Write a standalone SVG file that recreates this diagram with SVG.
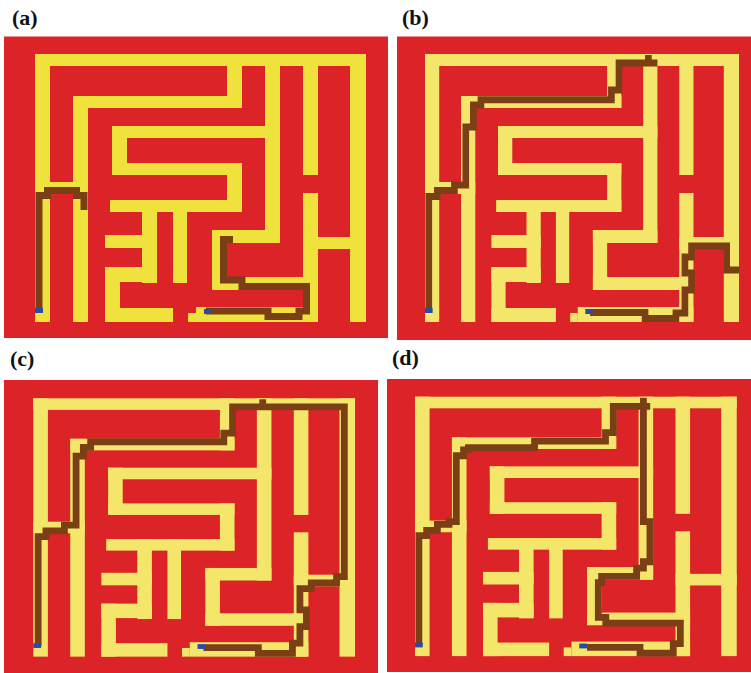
<svg xmlns="http://www.w3.org/2000/svg" xmlns:xlink="http://www.w3.org/1999/xlink" width="751" height="673" viewBox="0 0 751 673">
<style>
.bg{fill:#dc2428}
.lbl{font-family:"Liberation Serif","Times New Roman",serif;font-weight:bold;font-size:22px;fill:#111}
.path{fill:none;stroke:#7b3f16;stroke-width:7;stroke-linejoin:miter;stroke-linecap:butt}
.start{fill:#2b4aa8}
</style>
<defs>
<g id="maze">
<rect x="35" y="54" width="331" height="12"/>
<rect x="35" y="54" width="15" height="268"/>
<rect x="350" y="54" width="16" height="268"/>
<rect x="35" y="182" width="53" height="12"/>
<rect x="73" y="96" width="15" height="226"/>
<rect x="73" y="96" width="169" height="12"/>
<rect x="227" y="54" width="15" height="54"/>
<rect x="265" y="54" width="15" height="189"/>
<rect x="112" y="126" width="168" height="12"/>
<rect x="112" y="126" width="15" height="49"/>
<rect x="112" y="163" width="130" height="12"/>
<rect x="227" y="163" width="15" height="49"/>
<rect x="110" y="200" width="132" height="12"/>
<rect x="142" y="200" width="15" height="83"/>
<rect x="173" y="200" width="14" height="83"/>
<rect x="105" y="235" width="52" height="13"/>
<rect x="105" y="267" width="52" height="15"/>
<rect x="105" y="267" width="15" height="55"/>
<rect x="105" y="308" width="68" height="14"/>
<rect x="212" y="230" width="68" height="13"/>
<rect x="212" y="230" width="15" height="60"/>
<rect x="212" y="277" width="106" height="13"/>
<rect x="303" y="54" width="15" height="121"/>
<rect x="303" y="193" width="15" height="129"/>
<rect x="303" y="237" width="63" height="12"/>
<rect x="196" y="307" width="122" height="15"/>
<rect x="188" y="313" width="8" height="9"/>
</g>
<g id="starts">
<rect x="35" y="308" width="8" height="5"/>
<rect x="204" y="309" width="8" height="5"/>
</g>
</defs>

<g id="panel-a">
<rect class="bg" x="4" y="36.5" width="384" height="301.5"/>
<text class="lbl" x="12" y="25">(a)</text>
<g transform="translate(35,54) scale(1,1) translate(-35,-54)">
<use xlink:href="#maze" href="#maze" fill="#efe23c"/>
<path class="path" d="M39,311 V195.5 H47.5 V190.5 H76.5 V195.5 H84 V210"/>
<path class="path" d="M206,311 H268 V316.5 H299 V311 H306.5 V286.5 H242 V280 H223.5 V239.5 H233"/>
<use xlink:href="#starts" href="#starts" class="start"/>
</g>
</g>

<g id="panel-b">
<rect class="bg" x="397" y="36.5" width="354" height="303.5"/>
<text class="lbl" x="402" y="25">(b)</text>
<g transform="translate(425,54) scale(0.9486,1) translate(-35,-54)">
<use xlink:href="#maze" href="#maze" fill="#f3e66a"/>
<path class="path" d="M39,311 V196.5 H48 V190.5 H66 V185 H78 V127 H86 V105 H94 V99.7 H231.5 V90 H239.5 V63 H280 M270.5,63 V55"/>
<path class="path" d="M209,312.5 H267 V318.5 H299.5 V313 H309 V290 H316 V273 H309 V257 H316 V246 H353 V270 H366"/>
<use xlink:href="#starts" href="#starts" class="start"/>
</g>
</g>

<g id="panel-c">
<rect class="bg" x="4" y="380" width="374" height="293"/>
<text class="lbl" x="10" y="366">(c)</text>
<g transform="translate(33.3,398.3) scale(0.972,0.964) translate(-35,-54)">
<use xlink:href="#maze" href="#maze" fill="#f3e66a"/>
<path class="path" d="M40,311 V197.5 H48 V191.5 H67 V185.5 H79 V114 H86.5 V105 H94 V99.2 H231 V90 H240 V63 H355 V239 H347 V245.5 H321 V251.5 H309.3 V273.5 H316 V290.8 H309.3 V308 H301.6 V318.5 H266.5 V312.6 H210 M271,63 V55"/>
<use xlink:href="#starts" href="#starts" class="start"/>
</g>
</g>

<g id="panel-d">
<rect class="bg" x="387" y="379" width="364" height="293"/>
<text class="lbl" x="392" y="365">(d)</text>
<g transform="translate(415,396.7) scale(0.972,0.968) translate(-35,-54)">
<use xlink:href="#maze" href="#maze" fill="#f3e66a"/>
<path class="path" d="M39,311 V197.5 H47 V192 H58 V186 H70 V183 H77.5 V115 H85 V109 H90 V106.7 H158 V100 H231 V91 H239 V64 H270 V183 H276.7 V224.5 H270 V231 H263 V239.6 H227 V246 H223.6 V282 H231.3 V288 H308 V309 H300.7 V318.8 H266.5 V313 H212 M270,64 V55 M270,64 H277"/>
<use xlink:href="#starts" href="#starts" class="start"/>
</g>
</g>
</svg>
